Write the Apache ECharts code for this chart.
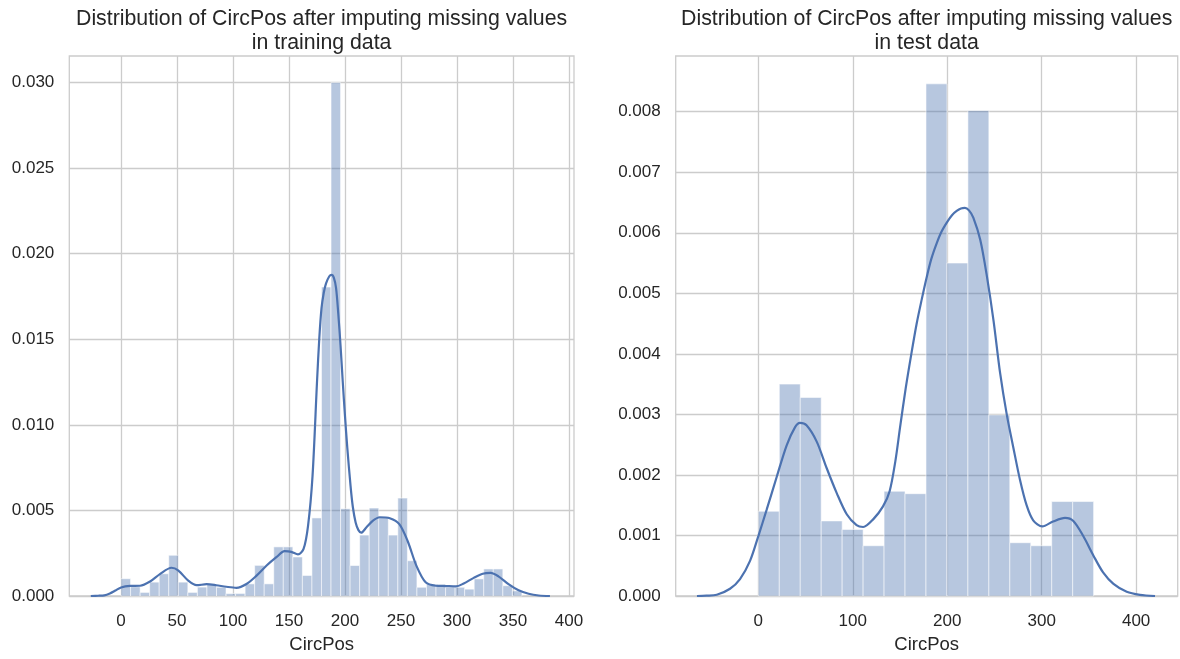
<!DOCTYPE html>
<html>
<head>
<meta charset="utf-8">
<title>Distribution of CircPos</title>
<script src="https://cdn.jsdelivr.net/npm/echarts@6.0.0/dist/echarts.min.js"></script>
<style>
  html, body { margin: 0; padding: 0; background: #ffffff; }
  #chart { width: 1180px; height: 659px; }
</style>
</head>
<body>
<div id="chart"></div>
<script>
// Histogram densities (42 equal bins over the training range)
const trainBinRange = [0, 358];
const trainDensity = [
  0.00101, 0.00054, 0.00021, 0.00081, 0.00130, 0.00238, 0.00081, 0.00021,
  0.00052, 0.00068, 0.00051, 0.00014, 0.00015, 0.00071, 0.00179, 0.00071,
  0.00287, 0.00287, 0.00228, 0.00120, 0.00456, 0.01805, 0.03000, 0.00510,
  0.00178, 0.00356, 0.00514, 0.00458, 0.00356, 0.00572, 0.00206, 0.00051,
  0.00070, 0.00070, 0.00051, 0.00051, 0.00040, 0.00100, 0.00158, 0.00158,
  0.00060, 0.00030
];

// KDE curve of the training data
const trainKdeX = [
  -27, -20, -15, -10, -5, 0, 8, 17, 26, 35, 45, 51, 60, 67.5, 76.5, 85,
  94, 103, 112, 121, 130, 139, 146, 152, 158, 163, 167, 171, 175, 177,
  179, 181, 183, 186, 188, 190, 192, 194, 196, 198, 200, 202, 205, 207,
  209.5, 212, 214.5, 219, 225, 231, 240, 248.5, 256, 264, 272, 281, 290,
  299, 306, 315, 323, 330, 337, 346, 355, 364, 373, 383
];
const trainKdeY = [
  0, 0.00002, 0.00004, 0.00015, 0.00032, 0.00050, 0.00059, 0.00060, 0.00085,
  0.00129, 0.00165, 0.00150, 0.00090, 0.00063, 0.00069, 0.00063,
  0.00054, 0.00048, 0.00070, 0.00119, 0.00178, 0.00228, 0.00262, 0.00258,
  0.00243, 0.00275, 0.00410, 0.00700, 0.01250, 0.01500, 0.01680, 0.01770,
  0.01825, 0.01868, 0.01876, 0.01860, 0.01800, 0.01650, 0.01465, 0.01250,
  0.01050, 0.00870, 0.00640, 0.00520, 0.00430, 0.00385, 0.00370, 0.00400,
  0.00440, 0.00460, 0.00454, 0.00420, 0.00320, 0.00173, 0.00080, 0.00060,
  0.00058, 0.00056, 0.00073, 0.00106, 0.00130, 0.00135, 0.00115, 0.00069,
  0.00033, 0.00013, 0.00003, 0
];

// Histogram densities (16 equal bins over the test range)
const testBinRange = [0, 355];
const testDensity = [
  0.00140, 0.00350, 0.00328, 0.00124, 0.00110, 0.00083, 0.00173, 0.00169,
  0.00846, 0.00550, 0.00802, 0.00299, 0.00088, 0.00083, 0.00156, 0.00156
];

// KDE curve of the test data
const testKdeX = [
  -65, -55, -44, -30, -19.4, -8.8, 0, 8.9, 19.5, 30, 38.9, 44, 51, 61.8,
  72.4, 83, 93.6, 104, 111, 121.8, 132, 139, 145, 150, 156, 162, 167.5,
  173, 178, 183, 188.7, 194, 200, 205, 210, 214.5, 218.7, 223, 227.6, 235,
  242, 249, 256, 263, 270, 277, 284, 291, 300.7, 312, 324.7, 333.5, 344,
  354.7, 365, 376, 390, 404, 420
];
const testKdeY = [
  0, 0.000005, 0.00002, 0.00012, 0.00028, 0.00058, 0.00099, 0.00143, 0.00197,
  0.00249, 0.00279, 0.00286, 0.00282, 0.00255, 0.00211, 0.00170, 0.00135,
  0.00117, 0.00114, 0.00127, 0.00148, 0.00173, 0.00222, 0.00278, 0.00343,
  0.00400, 0.00449, 0.00490, 0.00525, 0.00556, 0.00582, 0.00602, 0.00618,
  0.00629, 0.00636, 0.00640, 0.00641, 0.00637, 0.00625, 0.00588, 0.00528,
  0.00455, 0.00368, 0.00300, 0.00245, 0.00192, 0.00150, 0.00125, 0.00115,
  0.00123, 0.00129, 0.00124, 0.00099, 0.00067, 0.00039, 0.00020, 0.00007,
  0.00002, 0
];

// Axis tick labels
const trainXTicks = [0, 50, 100, 150, 200, 250, 300, 350, 400];
const trainYTicks = [0, 0.005, 0.010, 0.015, 0.020, 0.025, 0.030];
const testXTicks = [0, 100, 200, 300, 400];
const testYTicks = [0, 0.001, 0.002, 0.003, 0.004, 0.005, 0.006, 0.007, 0.008];

const titles = [
  'Distribution of CircPos after imputing missing values\nin training data',
  'Distribution of CircPos after imputing missing values\nin test data'
];
const xName = 'CircPos';

const FONT = '"Liberation Sans", Arial, "DejaVu Sans", sans-serif';
const TEXT = '#262626';
const GRID = '#cccccc';
const BLUE = '#4c72b0';

function binsFrom(range, values) {
  const w = (range[1] - range[0]) / values.length;
  return values.map((v, i) => [range[0] + i * w, range[0] + (i + 1) * w, v]);
}

function renderBin(params, api) {
  const top = api.coord([api.value(0), api.value(2)]);
  const base = api.coord([api.value(1), 0]);
  return {
    type: 'rect',
    shape: { x: top[0], y: top[1], width: base[0] - top[0], height: base[1] - top[1] },
    style: { fill: 'rgba(76,114,176,0.4)', stroke: 'rgba(255,255,255,0.55)', lineWidth: 1 }
  };
}

function xAxisOf(gridIndex, min, max, ticks) {
  return {
    type: 'value', gridIndex, min, max,
    name: xName, nameLocation: 'middle', nameGap: 39,
    nameTextStyle: { fontFamily: FONT, fontSize: 18.5, color: TEXT },
    axisLine: { show: false },
    axisTick: { show: false, customValues: ticks },
    axisLabel: { customValues: ticks, margin: 17, fontFamily: FONT, fontSize: 17, color: TEXT },
    splitLine: { show: true, lineStyle: { color: GRID, width: 1.3 } }
  };
}

function yAxisOf(gridIndex, max, ticks) {
  return {
    type: 'value', gridIndex, min: 0, max,
    axisLine: { show: false },
    axisTick: { show: false, customValues: ticks },
    axisLabel: {
      customValues: ticks, margin: 15, fontFamily: FONT, fontSize: 17, color: TEXT,
      formatter: v => v.toFixed(3)
    },
    splitLine: { show: true, lineStyle: { color: GRID, width: 1.3 } }
  };
}

function titleOf(text, centerX) {
  return {
    text, left: centerX, top: 7, padding: 0, textAlign: 'center',
    textStyle: { fontFamily: FONT, fontSize: 21.3, fontWeight: 'normal', color: TEXT, lineHeight: 24 }
  };
}

const chart = echarts.init(document.getElementById('chart'), null, { renderer: 'canvas' });

chart.setOption({
  animation: false,
  backgroundColor: '#ffffff',
  title: [titleOf(titles[0], 321.6), titleOf(titles[1], 926.7)],
  grid: [
    { left: 69.3, top: 56, width: 504.7, height: 541.3, show: true, borderColor: GRID, borderWidth: 1.3, backgroundColor: '#ffffff' },
    { left: 675.7, top: 56, width: 502, height: 541.3, show: true, borderColor: GRID, borderWidth: 1.3, backgroundColor: '#ffffff' }
  ],
  xAxis: [
    xAxisOf(0, -46.2, 404.5, trainXTicks),
    xAxisOf(1, -87.5, 444, testXTicks)
  ],
  yAxis: [
    yAxisOf(0, 0.03155, trainYTicks),
    yAxisOf(1, 0.00892, testYTicks)
  ],
  series: [
    {
      type: 'custom', xAxisIndex: 0, yAxisIndex: 0,
      renderItem: renderBin, encode: { x: [0, 1], y: 2 },
      data: binsFrom(trainBinRange, trainDensity), z: 2
    },
    {
      type: 'line', xAxisIndex: 0, yAxisIndex: 0,
      data: trainKdeX.map((x, i) => [x, trainKdeY[i]]),
      smooth: 0.3, showSymbol: false, silent: true,
      lineStyle: { color: BLUE, width: 2.2 }, z: 3
    },
    {
      type: 'custom', xAxisIndex: 1, yAxisIndex: 1,
      renderItem: renderBin, encode: { x: [0, 1], y: 2 },
      data: binsFrom(testBinRange, testDensity), z: 2
    },
    {
      type: 'line', xAxisIndex: 1, yAxisIndex: 1,
      data: testKdeX.map((x, i) => [x, testKdeY[i]]),
      smooth: 0.3, showSymbol: false, silent: true,
      lineStyle: { color: BLUE, width: 2.2 }, z: 3
    }
  ]
});
</script>
</body>
</html>
